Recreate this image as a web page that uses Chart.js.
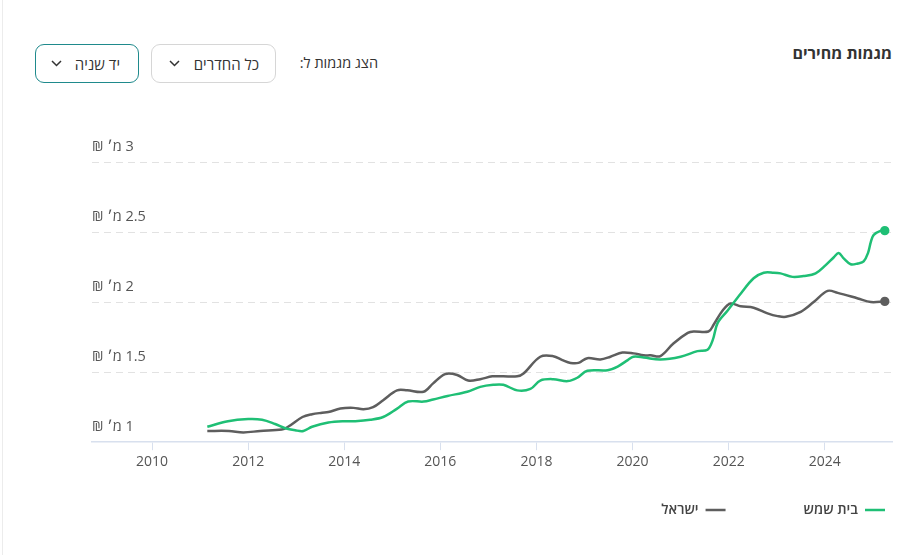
<!DOCTYPE html>
<html lang="he">
<head>
<meta charset="utf-8">
<script src="https://cdn.jsdelivr.net/npm/chart.js@4.4.1/dist/chart.umd.min.js"></script>
<style>
html,body{margin:0;padding:0;background:#fff;width:917px;height:555px;overflow:hidden;font-family:"Open Sans","Liberation Sans","DejaVu Sans",sans-serif;}
#wrap{position:relative;width:917px;height:555px;}
#chart{position:absolute;left:0;top:0;direction:rtl;}
.edge{position:absolute;left:2px;top:0;width:1px;height:555px;background:#ececec;}
.title{position:absolute;right:25px;top:42px;font-weight:700;font-size:16px;color:#333;direction:rtl;white-space:nowrap;}
.lbl{position:absolute;right:539px;top:53px;font-size:14.5px;color:#333;direction:rtl;white-space:nowrap;}
.btn{position:absolute;top:44px;height:39px;border-radius:9px;box-sizing:border-box;direction:rtl;display:flex;align-items:center;justify-content:space-between;font-size:15px;color:#333;background:#fff;white-space:nowrap;}
.btn svg{display:block;}
#rooms{left:151px;width:125px;border:1px solid #d6d6d6;padding:0 16px 0 17px;}
#kind{left:35px;width:104px;border:1px solid #1f8a8c;padding:0 18px 0 15px;}
</style>
</head>
<body>
<div id="wrap">
  <div class="edge"></div>
  <div class="title">מגמות מחירים</div>
  <div class="lbl">הצג מגמות ל:</div>
  <div class="btn" id="rooms"><span>כל החדרים</span><svg width="11" height="7" viewBox="0 0 11 7"><path d="M1 1 L5.5 5.5 L10 1" fill="none" stroke="#333" stroke-width="1.5"/></svg></div>
  <div class="btn" id="kind"><span>יד שניה</span><svg width="11" height="7" viewBox="0 0 11 7"><path d="M1 1 L5.5 5.5 L10 1" fill="none" stroke="#333" stroke-width="1.5"/></svg></div>
  <canvas id="chart" width="917" height="555" dir="rtl"></canvas>
</div>
<script>
// ---- data ----
const seriesNames = ['בית שמש', 'ישראל'];

const beitShemeshYears = [2011.15,2011.58,2012.0,2012.29,2012.56,2012.77,2012.98,2013.15,2013.33,2013.67,2014.02,2014.23,2014.54,2014.81,2015.1,2015.33,2015.65,2015.85,2016.15,2016.56,2016.83,2017.1,2017.31,2017.6,2017.875,2018.08,2018.35,2018.65,2018.85,2019.06,2019.48,2019.69,2019.9,2020.02,2020.23,2020.58,2021.0,2021.35,2021.56,2021.67,2021.77,2021.98,2022.25,2022.52,2022.73,2022.94,2023.08,2023.33,2023.56,2023.81,2024.02,2024.19,2024.29,2024.4,2024.54,2024.69,2024.81,2024.9,2024.96,2025.02,2025.17,2025.25];
const beitShemeshValues = [1.11,1.15,1.165,1.16,1.13,1.10,1.085,1.08,1.11,1.14,1.15,1.15,1.16,1.18,1.24,1.29,1.29,1.305,1.33,1.36,1.395,1.41,1.41,1.37,1.38,1.44,1.45,1.436,1.46,1.51,1.514,1.54,1.586,1.61,1.605,1.59,1.61,1.65,1.66,1.73,1.85,1.94,2.06,2.17,2.21,2.21,2.205,2.18,2.186,2.205,2.264,2.32,2.35,2.31,2.27,2.276,2.29,2.35,2.43,2.48,2.51,2.51];

const israelYears = [2011.15,2011.6,2011.9,2012.25,2012.7,2012.83,2013.13,2013.33,2013.54,2013.67,2013.92,2014.19,2014.4,2014.6,2014.81,2015.1,2015.31,2015.65,2015.85,2016.1,2016.35,2016.58,2016.83,2017.08,2017.31,2017.6,2017.73,2018.08,2018.35,2018.54,2018.71,2018.875,2019.06,2019.33,2019.54,2019.79,2020.02,2020.23,2020.375,2020.58,2020.85,2021.15,2021.27,2021.58,2021.69,2021.875,2022.04,2022.25,2022.52,2022.81,2023.02,2023.19,2023.5,2023.77,2024.06,2024.27,2024.69,2024.96,2025.25];
const israelValues = [1.08,1.08,1.07,1.08,1.09,1.11,1.18,1.20,1.21,1.215,1.24,1.245,1.235,1.25,1.30,1.37,1.37,1.36,1.42,1.486,1.48,1.44,1.45,1.47,1.47,1.47,1.49,1.61,1.614,1.586,1.566,1.566,1.60,1.59,1.61,1.64,1.634,1.62,1.62,1.615,1.705,1.78,1.79,1.79,1.84,1.94,1.99,1.97,1.96,1.92,1.90,1.895,1.93,2.00,2.08,2.066,2.026,2.00,2.005];

const yearTicks = [2010, 2012, 2014, 2016, 2018, 2020, 2022, 2024];
const priceTicks = [1, 1.5, 2, 2.5, 3];

// ---- chart ----
const GREEN = '#1fbf75';
const GRAY = '#5e5e5e';
const toPoints = (xs, ys) => xs.map((x, i) => ({x: x, y: ys[i]}));
const lastOnly = r => c => (c.dataIndex === c.dataset.data.length - 1 ? r : 0);

Chart.defaults.font.family = '"Open Sans","Liberation Sans","DejaVu Sans",sans-serif';

// Legend: wide gap between items but a compact row height.
const ITEM_GAP = 78, ROW_PAD = 30, EDGE = 32, LEGEND_FONT = 14;
const legendSpacing = {
  id: 'legendSpacing',
  afterLayout(chart) {
    const lg = chart.legend;
    if (!lg) return;
    const dy = ITEM_GAP - ROW_PAD, dx = ITEM_GAP - EDGE;
    lg.top -= dy;
    lg.bottom = lg.top + LEGEND_FONT + ITEM_GAP + 10;
    lg.height = lg.bottom - lg.top;
    lg.left += dx; lg.right += dx;
  }
};

new Chart(document.getElementById('chart'), {
  type: 'line',
  data: {
    datasets: [
      {
        label: seriesNames[0],
        data: toPoints(beitShemeshYears, beitShemeshValues),
        borderColor: GREEN, backgroundColor: GREEN,
        borderWidth: 2.5, tension: 0.35, fill: false,
        pointRadius: lastOnly(3.4), pointHoverRadius: 0,
        pointBackgroundColor: GREEN, pointBorderColor: GREEN, pointBorderWidth: 2.5
      },
      {
        label: seriesNames[1],
        data: toPoints(israelYears, israelValues),
        borderColor: GRAY, backgroundColor: GRAY,
        borderWidth: 2.5, tension: 0.35, fill: false,
        pointRadius: lastOnly(3.4), pointHoverRadius: 0,
        pointBackgroundColor: GRAY, pointBorderColor: GRAY, pointBorderWidth: 2.5
      }
    ]
  },
  options: {
    responsive: false,
    animation: false,
    events: [],
    layout: { padding: { top: 162, left: 92, right: 0, bottom: 28 } },
    scales: {
      x: {
        type: 'linear', min: 2008.75, max: 2025.4,
        afterBuildTicks: s => { s.ticks = yearTicks.map(v => ({value: v})); },
        ticks: { callback: v => String(v), color: '#555', font: { size: 14 }, padding: 3, maxRotation: 0, autoSkip: false },
        grid: { drawOnChartArea: false, drawTicks: true, tickLength: 8, color: '#d8e0ee' },
        border: { color: '#d8e0ee', width: 1.5 }
      },
      y: {
        type: 'linear', min: 1, max: 3,
        afterBuildTicks: s => { s.ticks = priceTicks.map(v => ({value: v})); },
        ticks: { mirror: true, padding: 0, labelOffset: -15, callback: v => v + ' מ׳ ₪', color: '#555', font: { size: 14.5 } },
        grid: { drawTicks: false, color: c => (c.tick && c.tick.value === 1 ? 'rgba(0,0,0,0)' : '#e2e2e2'), lineWidth: 1 },
        border: { display: false, dash: [7, 5] }
      },
      y2: {
        type: 'linear', position: 'right', display: true,
        grid: { display: false }, border: { display: false }, ticks: { display: false },
        afterFit: s => { s.width = 25; }
      }
    },
    plugins: {
      legend: {
        position: 'bottom', align: 'start', rtl: true, textDirection: 'rtl',
        maxHeight: LEGEND_FONT + ROW_PAD + 10,
        labels: { usePointStyle: true, pointStyle: 'line', pointStyleWidth: 20, padding: ITEM_GAP, color: '#444', font: { size: LEGEND_FONT, weight: '600' } }
      },
      tooltip: { enabled: false }
    }
  },
  plugins: [legendSpacing]
});
</script>
</body>
</html>
